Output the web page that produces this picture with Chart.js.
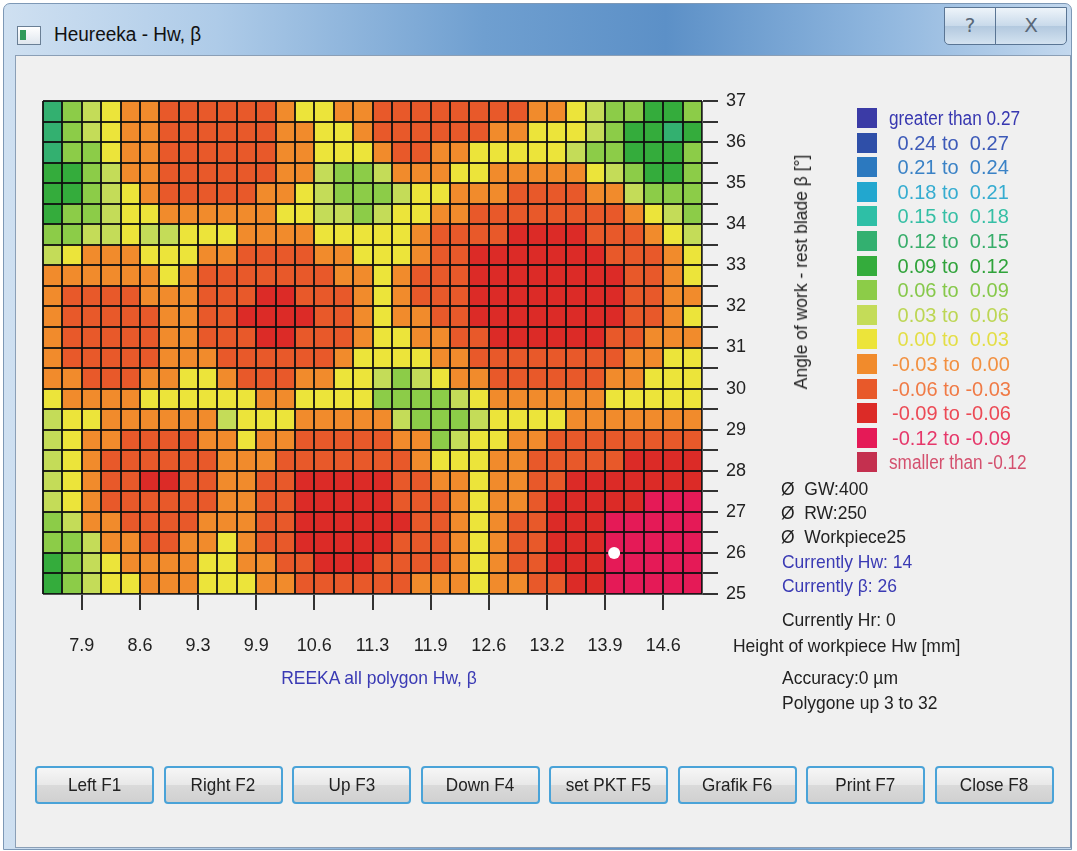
<!DOCTYPE html>
<html>
<head>
<meta charset="utf-8">
<title>Heureeka - Hw, β</title>
<script src="https://cdn.jsdelivr.net/npm/chart.js@4.4.1/dist/chart.umd.min.js"></script>
<style>
  body { margin: 0; width: 1077px; height: 851px; overflow: hidden; background: #fff;
         font-family: "Liberation Sans", Arial, sans-serif; }
  #win { position: absolute; left: 3px; top: 3px; width: 1067px; height: 845px;
         background: linear-gradient(to right, #cfe0f1 0%, #aecbe8 20%, #6f9fd0 45%, #5c90c7 62%, #8fb6de 82%, #c3d8ee 100%);
         border: 1px solid #7d98b6; border-radius: 7px 7px 0 0; }
  #panel { position: absolute; left: 11px; top: 51px; width: 1054px; height: 791px;
           background: #f0f0f0; border: 1px solid #8b9fb6; }
  #title { position: absolute; left: 50px; top: 19px; font-size: 20px; color: #111;
           transform: scaleX(0.95); transform-origin: left center; }
  #icon { position: absolute; left: 13px; top: 22px; width: 22px; height: 17px;
          background: linear-gradient(#fff, #dfe6ee); border: 1px solid #6a7f95; }
  #icon:after { content: ""; position: absolute; left: 2px; top: 3px; width: 6px; height: 10px; background: #2f9a5a; }
  .cap { position: absolute; top: 3px; height: 36px; border: 1px solid #5a7594;
         background: linear-gradient(#eef4fa, #c8d9ea 50%, #b3c9df 51%, #d3e2f0);
         text-align: center; font: 20px "DejaVu Sans", sans-serif; color: #5a6878; line-height: 34px; }
  #help { left: 940px; width: 50px; border-radius: 0 0 0 5px; }
  #close { left: 991px; width: 70px; border-radius: 0 0 5px 0; }
  canvas { position: absolute; left: 0; top: 0; }
  .txt { position: absolute; white-space: pre; font-size: 19px; color: #222; line-height: 22px;
         transform: scaleX(0.92); transform-origin: left center; }
  .blue { color: #3a3ab4; }
  .sw { position: absolute; left: 857px; width: 20px; height: 20px; }
  .lg { position: absolute; white-space: pre; font-size: 20px; line-height: 22px; transform-origin: left center; }
  #ytitle { position: absolute; left: 801px; top: 272px; transform: translate(-50%, -50%) rotate(-90deg) scaleX(0.92);
            white-space: nowrap; font-size: 19px; color: #222; }
  .btn { position: absolute; top: 766px; width: 115px; height: 34px; border: 2px solid #4aa3d8; border-radius: 4px;
         background: linear-gradient(#f6f6f6, #e8e8e8 50%, #dadada 51%, #d0d0d0);
         text-align: center; line-height: 34px; font-size: 19px; color: #222; }
  .btn span { display: inline-block; transform: scaleX(0.9); }
</style>
</head>
<body>
<div id="win">
  <div id="icon"></div>
  <div id="title">Heureeka - Hw, β</div>
  <div id="help" class="cap">?</div>
  <div id="close" class="cap">X</div>
  <div id="panel"></div>
</div>
<canvas id="myChart" width="1077" height="851"></canvas>
<div id="legend"></div>
<div id="ytitle">Angle of work - rest blade β [°]</div>
<div class="txt" style="left:781px; top:478px;">Ø  GW:400</div>
<div class="txt" style="left:781px; top:502px;">Ø  RW:250</div>
<div class="txt" style="left:781px; top:526px;">Ø  Workpiece25</div>
<div class="txt blue" style="left:782px; top:551px;">Currently Hw: 14</div>
<div class="txt blue" style="left:782px; top:575px;">Currently β: 26</div>
<div class="txt" style="left:782px; top:609px;">Currently Hr: 0</div>
<div class="txt" style="left:733px; top:635px;">Height of workpiece Hw [mm]</div>
<div class="txt" style="left:782px; top:667px;">Accuracy:0 µm</div>
<div class="txt" style="left:782px; top:692px;">Polygone up 3 to 32</div>
<div class="txt blue" style="left:379px; top:667px; transform: translateX(-50%) scaleX(0.92); transform-origin: center;">REEKA all polygon Hw, β</div>
<div id="buttons"></div>

<script>
// Achsen: Hw (Spalten) und Winkel beta (Zeilen)
const hwMin = 7.5;
const hwMax = 15;
const hwColumns = 34;
const hwTickLabels = ["7.9", "8.6", "9.3", "9.9", "10.6", "11.3", "11.9", "12.6", "13.2", "13.9", "14.6"];
const betaMin = 25;
const betaMax = 37;
const betaStep = 0.5;

// Klassen der Farbskala (von oben nach unten wie in der Legende)
const binCodes = ["B", "b", "c", "d", "e", "f", "g", "h", "i", "y", "o", "r", "R", "p", "P"];
const binLabels = ["greater than 0.27", " 0.24 to  0.27", " 0.21 to  0.24", " 0.18 to  0.21", " 0.15 to  0.18",
  " 0.12 to  0.15", " 0.09 to  0.12", " 0.06 to  0.09", " 0.03 to  0.06", " 0.00 to  0.03",
  "-0.03 to  0.00", "-0.06 to -0.03", "-0.09 to -0.06", "-0.12 to -0.09", "smaller than -0.12"];
const binColors = ["#3b3ba6", "#2f4fa8", "#2c79bf", "#22a7cf", "#2ebfa6", "#33b070", "#34ac3c", "#8ccc48",
  "#c4dc58", "#ece43a", "#f18b2c", "#e8592a", "#dc2b27", "#e51a57", "#c4304f"];
const binTextColors = ["#3737b0", "#3d5ab8", "#3a82c6", "#35acd0", "#35bfa5", "#37ad6a", "#2fa33a", "#86c84a",
  "#bcd653", "#e3de45", "#f29040", "#f07a45", "#ec4a55", "#e6386a", "#d4506e"];

// Zellen: jede Zeile ist ein beta-Streifen von 37 (oben) bis 25 (unten), ein Zeichen pro Hw-Spalte
const cellRows = [
  "fhiyoorrrrrroyyoorrrrrrrrooyihhggh",
  "fhiyoorrrrrrooyyorrrrrrooyyyihggfg",
  "fhhyoorrrrrrooyyyorrooyyyyyihhgggh",
  "gghioorrrrrrooihhioooyyoooooyihggh",
  "gghiyorrrrrooyihhhiyyooorrrrooihhh",
  "ghhiyyooooooyyiihiyyoorrrrrrrroyih",
  "hhiiyiiyyyooooyyyyyorrrrRRRRrrroyi",
  "iyoooyyyoorrrrooyyyorrRRRRRRRrrroy",
  "ooooooyorrrrrrrooyorrrRRRRRRRRrroy",
  "orrrrooorrrRRrrroyorrrRRRRRRRRrroo",
  "orrrrroorrRRRRrroyoorrRRRRRRRRrroy",
  "orrrrroorrrRRrrroyyoorrRRRRRRrrooo",
  "orrrrrooorrrrrroyyyyoorrrrrrrrooyy",
  "oorrrooyyorrrooyyihiyoorrrrrrooyyy",
  "yooooyyyyyyooyyyyhhhhiyooooooyyyyy",
  "iyyooooooiyyyoooooihhhiyyyyooooooo",
  "iyoorrrrooyoorrrrroohiyyoorrrrrrrr",
  "iyorrrrrrooorrrrrrroyyyoorrrrrRRRR",
  "iyorrRRrroorrRRRRRrrooyoorrRRRRRRR",
  "iyorrrrrroorrRRRRRrrroyoorRRRRRppp",
  "hioorrrrooorrRRRRRRrroyorrRRRppppp",
  "hhioorrooyorrRRRRRrrroyorrRRRppppp",
  "ghiyooooyyoorrRRRrrrroyorrRRRppppp",
  "ghiyyoooyyyoorrrrrroooyoorrRRppppp"
];

// aktueller Punkt
const currentHw = 14;
const currentBeta = 26;

// Buttons unten
const buttonLabels = ["Left F1", "Right F2", "Up F3", "Down F4", "set PKT F5", "Grafik F6", "Print F7", "Close F8"];

// Legende aufbauen
const legend = document.getElementById("legend");
let legendHtml = "";
binLabels.forEach((label, i) => {
  const top = 108 + i * 24.6;
  const wordy = label.startsWith("greater") || label.startsWith("smaller");
  const left = wordy ? 889 : 892;
  const squeeze = wordy ? "transform: scaleX(0.86);" : "";
  legendHtml += `<div class="sw" style="top:${top}px; background:${binColors[i]}"></div>
    <div class="lg" style="left:${left}px; top:${top - 1}px; color:${binTextColors[i]}; ${squeeze}">${label}</div>`;
});
legend.innerHTML = legendHtml;

let btnHtml = "";
buttonLabels.forEach((label, i) => {
  btnHtml += `<div class="btn" style="left:${35 + i * 128.5}px"><span>${label}</span></div>`;
});
document.getElementById("buttons").innerHTML = btnHtml;

// Plugin: Heatmap-Zellen ueber die Skalen zeichnen (vor dem Gitter)
const heatmapPlugin = {
  id: "heatmap",
  beforeDraw(chart) {
    const ctx = chart.ctx;
    const xs = chart.scales.x;
    const ys = chart.scales.y;
    const colWidth = (hwMax - hwMin) / hwColumns;
    ctx.save();
    cellRows.forEach((row, r) => {
      const bTop = betaMax - r * betaStep;
      const y0 = ys.getPixelForValue(bTop);
      const y1 = ys.getPixelForValue(bTop - betaStep);
      for (let c = 0; c < hwColumns; c++) {
        const x0 = xs.getPixelForValue(hwMin + c * colWidth);
        const x1 = xs.getPixelForValue(hwMin + (c + 1) * colWidth);
        ctx.fillStyle = binColors[binCodes.indexOf(row[c])];
        ctx.fillRect(x0, y0, x1 - x0 + 0.6, y1 - y0 + 0.6);
      }
    });
    ctx.restore();
  }
};

const tickFont = { family: "'Liberation Sans', Arial, sans-serif", size: 18 };

const config = {
  type: "scatter",
  data: {
    datasets: [{
      label: "Currently",
      data: [{ x: currentHw, y: currentBeta }],
      pointRadius: 6,
      pointHoverRadius: 6,
      backgroundColor: "#ffffff",
      borderWidth: 0
    }]
  },
  options: {
    responsive: false,
    animation: false,
    events: [],
    layout: { padding: { left: 43, top: 101, right: 315, bottom: 177 } },
    plugins: { legend: { display: false }, tooltip: { enabled: false } },
    scales: {
      x: {
        type: "linear",
        min: hwMin,
        max: hwMax,
        afterBuildTicks: (scale) => {
          const step = (hwMax - hwMin) / hwColumns;
          scale.ticks = [];
          for (let k = 0; k <= hwColumns; k++) scale.ticks.push({ value: hwMin + k * step });
        },
        afterFit: (scale) => { scale.height = 80; },
        ticks: {
          autoSkip: false,
          maxRotation: 0,
          padding: 25,
          color: "#222",
          font: tickFont,
          callback: (value, index) => (index % 3 === 2 ? hwTickLabels[(index - 2) / 3] : "")
        },
        grid: {
          color: "rgba(15,15,15,0.9)",
          lineWidth: 2,
          tickLength: 16,
          tickWidth: 2,
          tickColor: (ctx) => (ctx.index % 3 === 2 ? "#333" : "rgba(0,0,0,0)")
        },
        border: { display: true, color: "#555", width: 1 }
      },
      y: {
        type: "linear",
        position: "right",
        min: betaMin,
        max: betaMax,
        afterFit: (scale) => { scale.width = 60; },
        ticks: {
          stepSize: betaStep,
          autoSkip: false,
          padding: 8,
          color: "#222",
          font: tickFont,
          callback: (value) => (Number.isInteger(value) ? String(value) : "")
        },
        grid: {
          color: "rgba(15,15,15,0.9)",
          lineWidth: 2,
          tickLength: 16,
          tickWidth: 2,
          tickColor: "#333"
        },
        border: { display: true, color: "#555", width: 1 }
      }
    }
  },
  plugins: [heatmapPlugin]
};

const myChart = document.getElementById("myChart");
new Chart(myChart, config);
</script>
</body>
</html>
